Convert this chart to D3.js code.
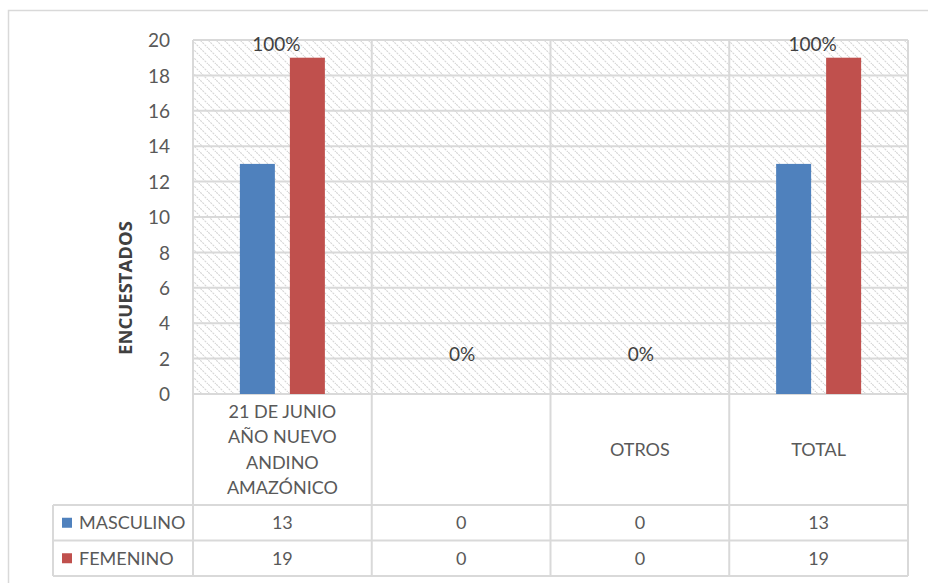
<!DOCTYPE html>
<html><head><meta charset="utf-8">
<script src="https://cdn.jsdelivr.net/npm/d3@7"></script>
<style>
html,body{margin:0;padding:0;background:#fff;}
svg{display:block;font-family:Lato,"Open Sans",sans-serif;}
</style></head>
<body><svg id="c" width="928" height="583"></svg>
<script>
const categories = [["21 DE JUNIO","AÑO NUEVO","ANDINO","AMAZÓNICO"], [""], ["OTROS"], ["TOTAL"]];
const seriesNames = ["MASCULINO","FEMENINO"];
const masculino = [13, 0, 0, 13];
const femenino = [19, 0, 0, 19];
const pctLabels = ["100%","0%","0%","100%"];
const yTicks = [0,2,4,6,8,10,12,14,16,18,20];
const colors = ["#4F81BD","#C0504D"];
const seriesValues = [masculino, femenino];

const svg = d3.select("#c");
const grid = "#d9d9d9";
const L = 193, R = 908, T = 40, B = 394;
const rowTop = 505, rowH = 35.5, legL = 53;

// outer frame
svg.append("path").attr("d","M8.5,583 V10.5 H928").attr("fill","none").attr("stroke",grid).attr("stroke-width",1.5);

// hatch pattern
const defs = svg.append("defs");
const pat = defs.append("pattern").attr("id","hatch").attr("patternUnits","userSpaceOnUse")
  .attr("width",8).attr("height",8);
pat.append("path").attr("d","M-2,-2 L10,10 M-2,6 L2,10 M6,-2 L10,2")
  .attr("stroke","#d6d6d6").attr("stroke-width",1.1).attr("stroke-dasharray","2.2,0.9");

const idx = d3.range(categories.length);
const x0 = d3.scaleBand().domain(idx).range([L,R]).paddingInner(0).paddingOuter(0);
const bw = x0.bandwidth();
const x1 = d3.scaleBand().domain(seriesNames).range([bw/2-42.5, bw/2+42.5]).paddingInner(0.3).paddingOuter(0);
const y = d3.scaleLinear().domain([0,20]).range([B,T]);

svg.append("rect").attr("x",L).attr("y",T).attr("width",R-L).attr("height",B-T).attr("fill","url(#hatch)");

// horizontal gridlines
svg.append("g").selectAll("line").data(yTicks).join("line")
  .attr("x1",L).attr("x2",R).attr("y1",d=>y(d)).attr("y2",d=>y(d))
  .attr("stroke",grid).attr("stroke-width",2);

// vertical lines (plot + table)
const vx = idx.map(i=>x0(i)).concat([R]);
svg.append("g").selectAll("line").data(vx).join("line")
  .attr("x1",d=>d).attr("x2",d=>d).attr("y1",T).attr("y2",rowTop+2*rowH)
  .attr("stroke",grid).attr("stroke-width",2);

// table horizontal lines
[rowTop, rowTop+rowH, rowTop+2*rowH].forEach(yy=>{
  svg.append("line").attr("x1",legL).attr("x2",R).attr("y1",yy).attr("y2",yy)
    .attr("stroke",grid).attr("stroke-width",2);
});
svg.append("line").attr("x1",legL).attr("x2",legL).attr("y1",rowTop).attr("y2",rowTop+2*rowH)
  .attr("stroke",grid).attr("stroke-width",2);

// bars
seriesNames.forEach((s,si)=>{
  svg.append("g").selectAll("rect").data(seriesValues[si]).join("rect")
    .attr("x",(d,i)=>x0(i)+x1(s)).attr("width",x1.bandwidth())
    .attr("y",d=>y(d)).attr("height",d=>B-y(d)).attr("fill",colors[si]);
});

// y axis labels
const yAxis = d3.axisLeft(y).tickValues(yTicks).tickSize(0).tickPadding(0).tickFormat(d3.format("d"));
const ga = svg.append("g").attr("transform",`translate(170,0)`).call(yAxis);
ga.select(".domain").remove();
ga.selectAll("text").attr("font-family","Lato,'Open Sans',sans-serif").attr("font-size",19).attr("fill","#595959").attr("dy","0.35em");

// y title
svg.append("text").attr("transform","translate(126,288) rotate(-90)").attr("text-anchor","middle")
  .attr("dy","0.35em").attr("font-family","'Open Sans',sans-serif").attr("font-size",18.5)
  .attr("font-weight","bold").attr("fill","#404040").text("ENCUESTADOS");

// pct labels
svg.append("g").selectAll("text").data(pctLabels).join("text")
  .attr("x",(d,i)=>x0(i)+bw/2 + (femenino[i]>0?-6:1))
  .attr("y",(d,i)=>femenino[i]>0 ? y(femenino[i])-7 : y(0)-33)
  .attr("text-anchor","middle").attr("font-size",19).attr("fill","#404040").text(d=>d);

// category labels
const catG = svg.append("g");
categories.forEach((lines,i)=>{
  const lh = 25.5;
  const midY = (B+rowTop)/2;
  const startY = midY - (lines.length-1)*lh/2;
  lines.forEach((ln,j)=>{
    catG.append("text").attr("x",x0(i)+bw/2).attr("y",startY+j*lh).attr("dy","0.35em")
      .attr("text-anchor","middle").attr("font-size",18).attr("fill","#595959").text(ln);
  });
});

// table rows
seriesNames.forEach((s,si)=>{
  const cy = rowTop + rowH*si + rowH/2;
  svg.append("rect").attr("x",62).attr("y",cy-5).attr("width",10).attr("height",10).attr("fill",colors[si]);
  svg.append("text").attr("x",79).attr("y",cy).attr("dy","0.35em").attr("font-size",18).attr("fill","#595959").text(s);
  svg.append("g").selectAll("text").data(seriesValues[si]).join("text")
    .attr("x",(d,i)=>x0(i)+bw/2).attr("y",cy).attr("dy","0.35em").attr("text-anchor","middle")
    .attr("font-size",18).attr("fill","#595959").text(d=>d);
});
</script></body></html>
